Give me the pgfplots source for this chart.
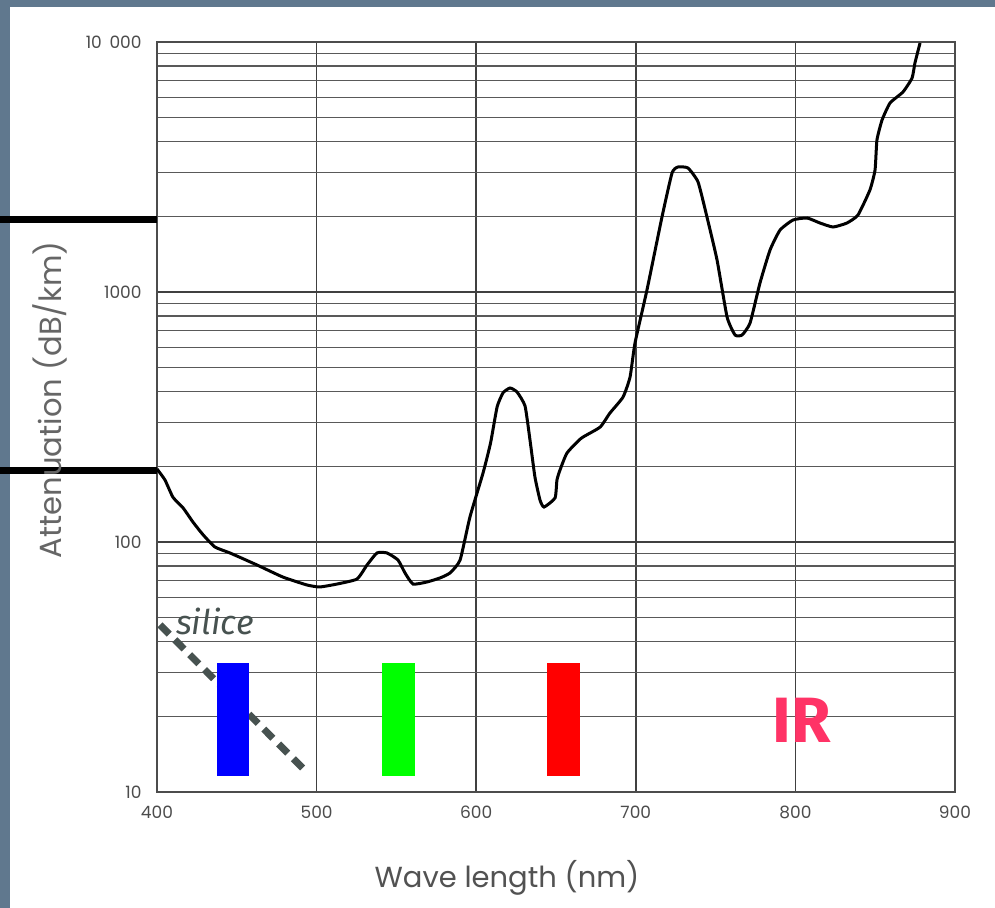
\documentclass[border=0pt]{standalone}
\usepackage{fontspec}
\setmainfont{Poppins}
\newfontfamily\fira{Fira Sans}
\usepackage{pgfplots}
\pgfplotsset{compat=1.18}
\definecolor{framecol}{RGB}{96,120,142}
\definecolor{silicecol}{RGB}{71,82,80}
\definecolor{ircol}{RGB}{255,51,102}
\begin{document}
\begin{tikzpicture}
\fill[framecol] (0,0) rectangle (497.5pt,454pt);
\fill[white] (5pt,0) rectangle (497.5pt,450.5pt);
\begin{axis}[
  at={(78.5pt,58pt)}, anchor=south west,
  width=399pt, height=375pt, scale only axis,
  xmin=400, xmax=900, ymin=10, ymax=10000, ymode=log,
  clip=false,
  xtick={400,500,600,700,800,900},
  xticklabels={400,500,600,700,800,900},
  ytick={10,100,1000,10000},
  yticklabels={10,100,1000,10\hspace{0.45em}000},
  minor ytick={20,30,40,50,60,70,80,90,200,300,400,500,600,700,800,900,2000,3000,4000,5000,6000,7000,8000,9000},
  xmajorgrids, ymajorgrids, yminorgrids,
  major tick length=0pt, minor tick length=0pt,
  major grid style={black!75, line width=0.75pt},
  minor grid style={black!65, line width=0.75pt},
  axis line style={black!70, line width=0.75pt},
  tick label style={font=\fontsize{8.5}{10}\selectfont, text=black!70, inner sep=0pt},
  xticklabel style={anchor=center, yshift=-10pt},
  yticklabel style={anchor=east, xshift=-7.5pt},
  xlabel={Wave length (nm)},
  ylabel={Attenuation (dB/km)},
  xlabel style={font=\fontsize{14.5}{16}\selectfont, text=black!68, at={(axis description cs:0.4386,-0.1147)}, anchor=center},
  ylabel style={font=\fontsize{15.3}{17}\selectfont, text=black!60, at={(axis description cs:-0.134,0.523)}, anchor=center},
]
% left annotation bars
\addplot[black, line width=3.5pt, forget plot] coordinates {(301.6,1950) (400,1950)};
\addplot[black, line width=3.5pt, forget plot] coordinates {(301.6,194) (400,194)};
% silice dashed line
\addplot[silicecol, line width=3.5pt, dash pattern=on 6.5pt off 4pt] coordinates {(401.9,46.6) (492.7,12.2)};
% colour bars
\addplot[fill={rgb,255:red,0;green,0;blue,255}, draw=none] coordinates {(437.6,11.6) (457.6,11.6) (457.6,32.8) (437.6,32.8)} -- cycle;
\addplot[fill={rgb,255:red,0;green,255;blue,0}, draw=none] coordinates {(541.0,11.6) (561.7,11.6) (561.7,32.8) (541.0,32.8)} -- cycle;
\addplot[fill={rgb,255:red,255;green,0;blue,0}, draw=none] coordinates {(644.4,11.6) (665.0,11.6) (665.0,32.8) (644.4,32.8)} -- cycle;
% attenuation curve
\addplot[black, line width=1.5pt, smooth, tension=0.3] coordinates {
(400,196) (405,177) (410,151) (416.3,137) (422.6,120) (428.8,107) (436.3,95.5) (445.7,90.4)
(462.7,80.9) (478.9,72.4) (494,67.3) (502,66.1) (512.8,67.9) (525.3,71.1) (531.6,80.9)
(537.8,90.4) (544.1,90.4) (551,84.7) (555.4,75.2) (560.4,67.9) (569.2,69.2) (577.3,71.8)
(583.6,75.2) (589.9,84.7) (596.1,126) (604.3,189) (609,249) (613.1,347) (616.8,395)
(621.2,413) (625.6,398) (630.6,350) (633.7,256) (636.8,182) (640,147) (642.5,138)
(649.4,150) (650.6,177) (652.5,194) (656.9,227) (665.8,260) (677.6,288) (683.8,328) (692,380)
(696.4,457) (699.5,625) (707,1019) (716.4,1995) (722.7,2992) (726.4,3162) (732.7,3133)
(739,2754) (744.6,1995) (750.9,1343) (757.2,794) (762.2,673) (766.6,673) (771.6,752)
(777.8,1086) (784.1,1472) (790.4,1770) (798.5,1941) (807.3,1977) (815.4,1888) (823.6,1820)
(832.3,1888) (839.2,2032) (846.7,2559) (849.9,3076) (851.1,4055) (854.3,4875) (859.3,5702)
(867.4,6310) (873.1,7178) (874.9,8241) (878.1,9908)
};
\node[font=\fira\itshape\fontsize{17}{20}\selectfont, text=silicecol, inner sep=0pt, anchor=center] at (axis cs:436.3,47.9) {silice};
\node[font=\fira\bfseries\fontsize{32}{36}\selectfont, text=ircol, inner sep=0pt, anchor=center] at (axis cs:804.1,19.4) {IR};
\end{axis}
\pgfresetboundingbox
\useasboundingbox (0,0) rectangle (497.5pt,454pt);
\end{tikzpicture}
\end{document}
